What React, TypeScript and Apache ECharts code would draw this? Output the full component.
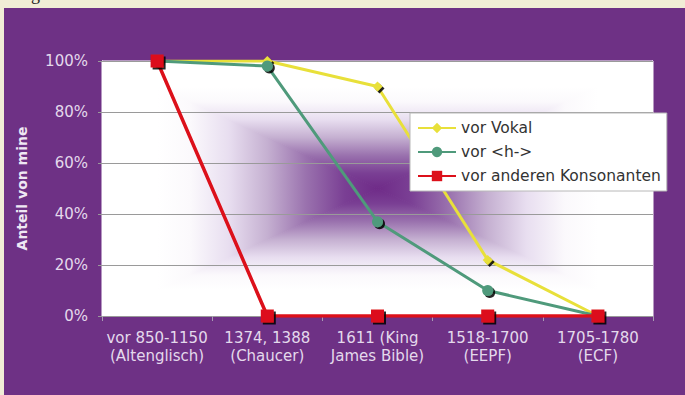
import React, { useEffect, useRef } from "react";
import * as echarts from "echarts";

const CATEGORIES = [
  "vor 850-1150\n(Altenglisch)",
  "1374, 1388\n(Chaucer)",
  "1611 (King\nJames Bible)",
  "1518-1700\n(EEPF)",
  "1705-1780\n(ECF)",
];
const VOR_VOKAL = [100, 100, 90, 22, 0];
const VOR_H = [100, 98, 37, 10, 0];
const VOR_KONSONANTEN = [100, 0, 0, 0, 0];
const Y_TICKS = [0, 20, 40, 60, 80, 100];

const W = 685;
const H = 395;
const GRID = { left: 102, right: 32, top: 61, bottom: 79 };
const BEIGE = "#f1edd6";
const PURPLE = "#6e3185";
const LABEL = "#e4d9ec";
const FONT = "DejaVu Sans, Verdana, sans-serif";

// Rectangular "from centre" fill: one linear gradient per triangle,
// running from the plot centre out to each edge.
function centerGradient(x0: number, y0: number, x1: number, y1: number) {
  return new echarts.graphic.LinearGradient(x0, y0, x1, y1, [
    { offset: 0, color: "#6f2b88" },
    { offset: 0.12, color: "#7a3f94" },
    { offset: 0.26, color: "#9a72ae" },
    { offset: 0.4, color: "#c5b0d1" },
    { offset: 0.54, color: "#e8def0" },
    { offset: 0.68, color: "#fbf9fc" },
    { offset: 0.8, color: "#ffffff" },
    { offset: 1, color: "#ffffff" },
  ]);
}

export default function App() {
  const ref = useRef<HTMLDivElement>(null);

  useEffect(() => {
    document.body.style.margin = "0";
    const chart = echarts.init(ref.current!, null, { renderer: "svg" });

    const L = GRID.left;
    const T = GRID.top;
    const R = W - GRID.right;
    const B = H - GRID.bottom;
    const cx = (L + R) / 2;
    const cy = (T + B) / 2;

    const tri = (points: number[][], g: [number, number, number, number]) => ({
      type: "polygon",
      z: -18,
      shape: { points },
      style: {
        fill: centerGradient(...g),
        stroke: centerGradient(...g),
        lineWidth: 1,
      },
    });

    const mkSeries = (
      name: string,
      data: number[],
      color: string,
      symbol: string,
      size: number,
      width: number
    ) => ({
      name,
      type: "line",
      data,
      symbol,
      symbolSize: size,
      lineStyle: { color, width },
      itemStyle: {
        color,
        shadowColor: "rgba(0,0,0,0.85)",
        shadowOffsetX: 2,
        shadowOffsetY: 2,
        shadowBlur: 1,
      },
      emphasis: { disabled: true },
    });

    chart.setOption({
      animation: false,
      backgroundColor: "transparent",
      graphic: [
        {
          type: "text",
          z: -20,
          style: {
            x: 31,
            y: 3,
            text: "g",
            fill: "#222",
            font: "18px serif",
            verticalAlign: "bottom",
          },
        },
        {
          type: "rect",
          z: -20,
          shape: { x: 4, y: 8, width: W - 4, height: H - 8 },
          style: { fill: PURPLE },
        },
        {
          type: "rect",
          z: -19,
          shape: { x: L, y: T, width: R - L, height: B - T },
          style: { fill: "#ffffff" },
        },
        tri([[L, T], [cx, cy], [L, B]], [1, 0, 0, 0]),
        tri([[R, T], [cx, cy], [R, B]], [0, 0, 1, 0]),
        tri([[L, T], [cx, cy], [R, T]], [0, 1, 0, 0]),
        tri([[L, B], [cx, cy], [R, B]], [0, 0, 0, 1]),
      ],
      grid: { ...GRID, containLabel: false },
      legend: {
        left: 410,
        top: 113,
        orient: "vertical",
        selectedMode: false,
        backgroundColor: "#ffffff",
        borderColor: "#b8b8b8",
        borderWidth: 1,
        borderRadius: 0,
        padding: [7, 6, 7, 7],
        itemWidth: 38,
        itemHeight: 13,
        itemGap: 8,
        textStyle: { color: "#333", fontSize: 15.5, fontFamily: FONT },
        data: ["vor Vokal", "vor <h->", "vor anderen Konsonanten"],
      },
      xAxis: {
        type: "category",
        data: CATEGORIES,
        boundaryGap: true,
        axisLine: { show: true, lineStyle: { color: "#999" } },
        axisTick: { show: true, length: 5, lineStyle: { color: "#a99bb3" } },
        axisLabel: {
          interval: 0,
          color: LABEL,
          fontSize: 15,
          fontFamily: FONT,
          lineHeight: 18,
          margin: 13,
        },
      },
      yAxis: {
        type: "value",
        min: Y_TICKS[0],
        max: Y_TICKS[Y_TICKS.length - 1],
        interval: Y_TICKS[1] - Y_TICKS[0],
        name: "Anteil von mine",
        nameLocation: "middle",
        nameGap: 73,
        nameTextStyle: {
          color: "#efe8f4",
          fontSize: 14,
          fontWeight: "bold",
          fontFamily: FONT,
        },
        axisLine: { show: false },
        axisTick: { show: true, length: 4, lineStyle: { color: "#999" } },
        axisLabel: {
          formatter: "{value}%",
          color: LABEL,
          fontSize: 15,
          fontFamily: FONT,
          margin: 14,
        },
        splitLine: { show: true, lineStyle: { color: "#9a9a9a", width: 1 } },
      },
      series: [
        mkSeries("vor Vokal", VOR_VOKAL, "#e8e03a", "diamond", 10, 3),
        mkSeries("vor <h->", VOR_H, "#4f9a7b", "circle", 11, 3),
        mkSeries("vor anderen Konsonanten", VOR_KONSONANTEN, "#dc101a", "rect", 13, 3.5),
      ],
    });

    return () => chart.dispose();
  }, []);

  return (
    <div style={{ width: W, height: H, background: BEIGE, overflow: "hidden" }}>
      <div ref={ref} style={{ width: W, height: H }} />
    </div>
  );
}
